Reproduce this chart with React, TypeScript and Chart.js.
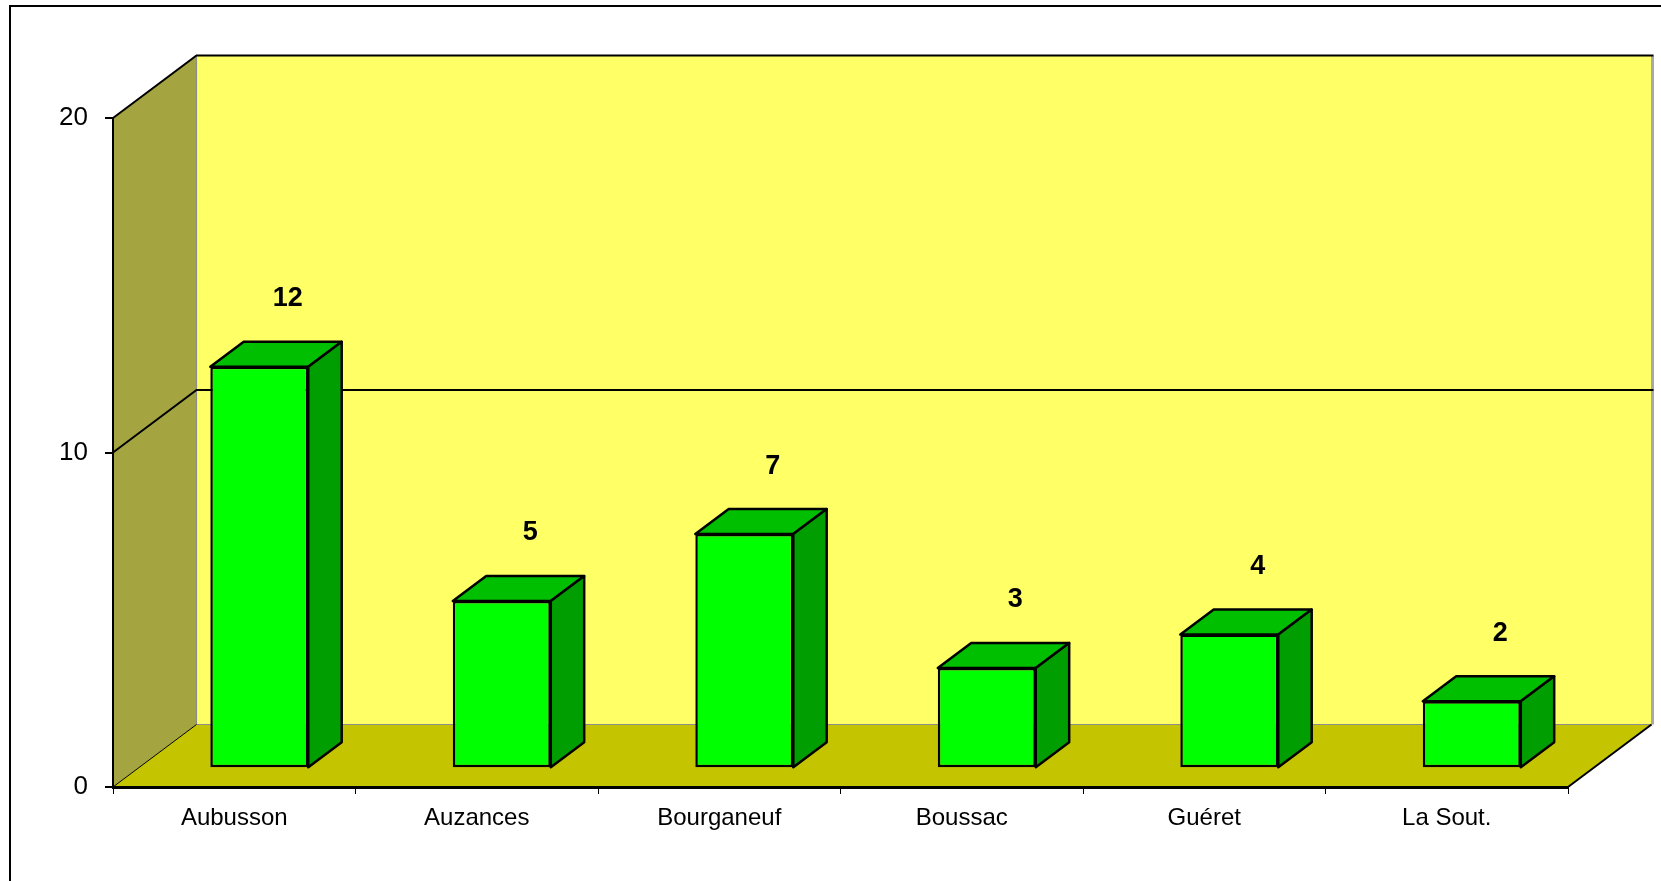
import React, { useEffect, useRef } from "react";
import { Chart, registerables } from "chart.js";

Chart.register(...registerables);

const categories = ["Aubusson", "Auzances", "Bourganeuf", "Boussac", "Guéret", "La Sout."];
const counts = [12, 5, 7, 3, 4, 2];
const yTickValues = [0, 10, 20];

const W = 1661;
const H = 881;
const DX = 83.5;
const DY = -62.5;
const BAR_FRONT = 0.3;
const BAR_BACK = 0.7;
const FONT = "'Liberation Sans', Arial, sans-serif";

const threeD = {
  id: "threeD",
  beforeDraw(chart: any) {
    const { ctx, chartArea: a, scales } = chart;
    const y = scales.y;
    const L = a.left;
    const R = a.right;
    const B = a.bottom;
    const T = y.getPixelForValue(yTickValues[yTickValues.length - 1]);
    ctx.save();
    ctx.fillStyle = "#ffffff";
    ctx.fillRect(0, 0, W, H);
    ctx.strokeStyle = "#000000";
    ctx.lineWidth = 2;
    ctx.strokeRect(10, 6, W + 40, H + 40);

    // back wall
    ctx.fillStyle = "#FFFF66";
    ctx.fillRect(L + DX, T + DY, R - L, B - T);
    // left wall
    ctx.fillStyle = "#A4A441";
    ctx.beginPath();
    ctx.moveTo(L, T);
    ctx.lineTo(L + DX, T + DY);
    ctx.lineTo(L + DX, B + DY);
    ctx.lineTo(L, B);
    ctx.closePath();
    ctx.fill();
    // floor
    ctx.fillStyle = "#C4C400";
    ctx.beginPath();
    ctx.moveTo(L, B);
    ctx.lineTo(R, B);
    ctx.lineTo(R + DX, B + DY);
    ctx.lineTo(L + DX, B + DY);
    ctx.closePath();
    ctx.fill();

    // gray edges
    ctx.strokeStyle = "#8c8c8c";
    ctx.lineWidth = 1.2;
    ctx.beginPath();
    ctx.moveTo(L + DX, T + DY);
    ctx.lineTo(L + DX, B + DY);
    ctx.lineTo(R + DX, B + DY);
    ctx.stroke();
    ctx.strokeStyle = "#a8a8a8";
    ctx.lineWidth = 3;
    ctx.beginPath();
    ctx.moveTo(R + DX + 1, T + DY);
    ctx.lineTo(R + DX + 1, B + DY);
    ctx.stroke();

    // grid lines
    ctx.strokeStyle = "#000000";
    ctx.lineWidth = 2;
    for (const v of yTickValues) {
      if (v === 0) continue;
      const yp = y.getPixelForValue(v);
      ctx.beginPath();
      ctx.moveTo(L, yp);
      ctx.lineTo(L + DX, yp + DY);
      ctx.lineTo(R + DX + 2, yp + DY);
      ctx.stroke();
    }
    // floor diagonals
    ctx.lineWidth = 1;
    ctx.beginPath();
    ctx.moveTo(L, B);
    ctx.lineTo(L + DX, B + DY);
    ctx.stroke();
    ctx.lineWidth = 2;
    ctx.beginPath();
    ctx.moveTo(R, B);
    ctx.lineTo(R + DX, B + DY);
    ctx.stroke();
    ctx.restore();
  },
  beforeDatasetsDraw(chart: any) {
    const { ctx } = chart;
    ctx.save();
    ctx.translate(DX * BAR_FRONT, DY * BAR_FRONT);
    const bdx = DX * (BAR_BACK - BAR_FRONT);
    const bdy = DY * (BAR_BACK - BAR_FRONT);
    const meta = chart.getDatasetMeta(0);
    ctx.lineWidth = 2.5;
    ctx.lineJoin = "round";
    ctx.strokeStyle = "#000000";
    meta.data.forEach((el: any) => {
      const p = el.getProps(["x", "y", "base", "width"], true);
      const left = p.x - p.width / 2;
      const right = p.x + p.width / 2;
      const top = p.y;
      const bottom = p.base;
      // top face
      ctx.fillStyle = "#00BE00";
      ctx.beginPath();
      ctx.moveTo(left, top);
      ctx.lineTo(right, top);
      ctx.lineTo(right + bdx, top + bdy);
      ctx.lineTo(left + bdx, top + bdy);
      ctx.closePath();
      ctx.fill();
      ctx.stroke();
      // side face
      ctx.fillStyle = "#009E00";
      ctx.beginPath();
      ctx.moveTo(right, top);
      ctx.lineTo(right + bdx, top + bdy);
      ctx.lineTo(right + bdx, bottom + bdy);
      ctx.lineTo(right, bottom);
      ctx.closePath();
      ctx.fill();
      ctx.stroke();
    });
  },
  afterDatasetsDraw(chart: any) {
    const { ctx } = chart;
    ctx.restore();
    ctx.save();
    const meta = chart.getDatasetMeta(0);
    ctx.fillStyle = "#000000";
    ctx.font = `bold 27px ${FONT}`;
    ctx.textAlign = "center";
    ctx.textBaseline = "middle";
    meta.data.forEach((el: any, i: number) => {
      const p = el.getProps(["x", "y"], true);
      ctx.fillText(String(counts[i]), p.x + DX * 0.64, p.y + DY * BAR_FRONT - 68);
    });
    ctx.restore();
  },
};

export default function App() {
  const ref = useRef<HTMLCanvasElement>(null);
  useEffect(() => {
    if (!ref.current) return;
    const chart = new Chart(ref.current, {
      type: "bar",
      data: {
        labels: categories,
        datasets: [
          {
            data: counts,
            backgroundColor: "#00FF00",
            borderColor: "#000000",
            borderWidth: 2.5,
            borderSkipped: false,
            categoryPercentage: 1,
            barPercentage: 0.404,
            clip: false,
          } as any,
        ],
      },
      options: {
        animation: false,
        responsive: false,
        devicePixelRatio: 1,
        layout: { padding: { left: 0, right: 93, top: 118, bottom: 0 } },
        plugins: { legend: { display: false }, tooltip: { enabled: false } },
        scales: {
          x: {
            grid: {
              display: true,
              drawOnChartArea: false,
              drawTicks: true,
              tickLength: 7,
              color: "#000000",
              lineWidth: 1,
              offset: true,
            },
            border: { display: true, color: "#000000", width: 3 },
            ticks: {
              color: "#000000",
              font: { family: FONT, size: 24 },
              padding: 10,
              maxRotation: 0,
              autoSkip: false,
            },
            afterFit: (s: any) => {
              s.height = 94;
            },
          },
          y: {
            min: 0,
            max: 20,
            afterBuildTicks: (s: any) => {
              s.ticks = yTickValues.map((v) => ({ value: v }));
            },
            grid: {
              display: true,
              drawOnChartArea: false,
              drawTicks: true,
              tickLength: 8,
              color: "#000000",
              lineWidth: 2,
            },
            border: { display: true, color: "#000000", width: 2 },
            ticks: {
              color: "#000000",
              font: { family: FONT, size: 26 },
              padding: 17,
            },
            afterFit: (s: any) => {
              s.width = 113;
            },
          },
        },
      },
      plugins: [threeD],
    });
    return () => chart.destroy();
  }, []);
  return (
    <div style={{ position: "absolute", left: 0, top: 0, width: W, height: H, overflow: "hidden" }}>
      <canvas ref={ref} width={W} height={H} style={{ display: "block", width: W, height: H }} />
    </div>
  );
}
